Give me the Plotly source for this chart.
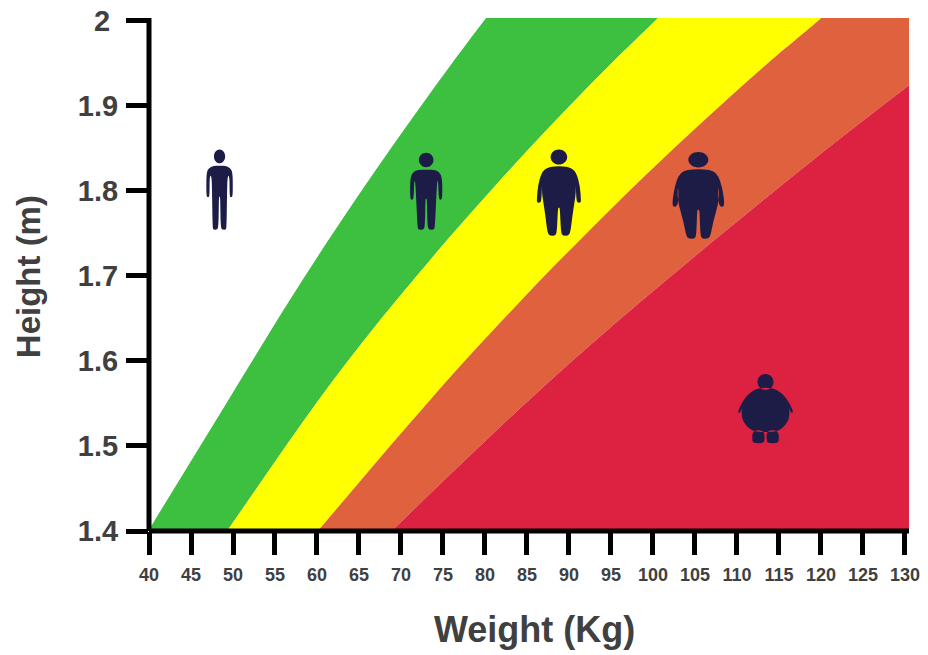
import plotly.graph_objects as go

heights = [1.40, 1.45, 1.50, 1.55, 1.60, 1.65, 1.70, 1.75, 1.80, 1.85, 1.90, 1.95, 2.00, 2.01]
under_limit = [39.9, 43.0, 46.1, 49.2, 52.3, 55.4, 58.6, 61.9, 65.3, 68.8, 72.4, 76.1, 79.9, 80.7]
normal_limit = [49.3, 52.8, 56.3, 59.9, 63.7, 67.7, 71.9, 76.2, 80.7, 85.3, 90.1, 95.1, 100.3, 101.3]
over_limit = [60.1, 64.4, 68.7, 73.1, 77.6, 82.3, 87.1, 92.1, 97.2, 102.5, 108.0, 113.7, 119.7, 120.8]
obese_limit = [68.9, 74.1, 79.4, 84.8, 90.4, 96.2, 102.2, 108.3, 114.5, 120.8, 127.3, 134.0, 141.0, 142.4]
right_limit = [145.0] * 14

figure_w = [48.4, 73.0, 88.8, 105.4, 113.4]
figure_h = [1.80, 1.80, 1.80, 1.80, 1.542]

x_ticks = list(range(40, 131, 5))
y_ticks = [1.4, 1.5, 1.6, 1.7, 1.8, 1.9, 2]
y_labels = ["1.4", "1.5", "1.6", "1.7", "1.8", "1.9", "2\u00a0"]

GREEN, YELLOW, ORANGE, RED = "#3dbf40", "#ffff00", "#e0613e", "#dd2140"
NAVY = "#1c1c46"
TEXT = "#404040"

# icon outlines: pixel offsets from the anchor (y downward), right half
heads = [(0, -34.3, 5.6, 6.8), (0, -30.7, 7.3, 7.2), (0, -33.7, 8.3, 7.6), (0, -31, 10, 7.7), (0, -28.3, 8, 8)]
bodies = [
    [[(0, -25), (6, -25), (11, -22.5), (13, -18), (13.3, -4), (13, 6), (11.5, 6.5), (10, 6), (10, -15), (8, -15),
      (7.5, 0), (7, 37), (6, 39), (3, 39), (1, 37), (0.7, 6), (0, 6)]],
    [[(0, -21), (8, -21), (13, -19), (16, -13), (16.2, 7), (14.5, 9.5), (12.5, 8), (12, -10), (11, -10), (10, 8),
      (8.7, 37), (7.5, 39), (3, 39), (1.2, 36), (0.8, 8), (0, 8)]],
    [[(0, -24.5), (9, -24), (15, -21), (18, -16), (21, -5), (22, 8), (22, 12), (19, 12), (17.5, 10), (16.8, -8),
      (17, 2), (15.5, 12), (13.5, 25), (11.5, 42), (9, 45), (4, 45), (2, 42), (1, 17), (0, 17)]],
    [[(0, -21.5), (11, -21), (18, -18), (22, -10), (25, 3), (26, 13), (25, 16), (22, 16), (20, 12), (20, -5),
      (21, 3), (19.5, 15), (15, 30), (12, 46), (9, 48), (4, 48), (2, 45), (1.2, 19), (0, 19)]],
    [[(0, -22.5), (8, -22), (15, -18), (20, -13), (25, -5), (27.5, 1), (27, 3), (25, 2), (23.5, -3), (24, 2),
      (23, 11), (14, 21), (0, 22)],
     [(1, 20), (13, 20), (13.5, 31), (11, 33), (3, 33), (1, 31), (1, 20)]],
]


def smooth_closed(points):
    mids = [((points[i][0] + points[(i + 1) % len(points)][0]) / 2,
             (points[i][1] + points[(i + 1) % len(points)][1]) / 2) for i in range(len(points))]
    d = f"M {mids[-1][0]:.2f} {-mids[-1][1]:.2f} "
    for i, p in enumerate(points):
        d += f"Q {p[0]:.2f} {-p[1]:.2f} {mids[i][0]:.2f} {-mids[i][1]:.2f} "
    return d + "Z "


def ellipse(cx, cy, rx, ry):
    k = 0.5523
    y = -cy
    return (f"M {cx - rx} {y} C {cx - rx} {y + k * ry} {cx - k * rx} {y + ry} {cx} {y + ry} "
            f"C {cx + k * rx} {y + ry} {cx + rx} {y + k * ry} {cx + rx} {y} "
            f"C {cx + rx} {y - k * ry} {cx + k * rx} {y - ry} {cx} {y - ry} "
            f"C {cx - k * rx} {y - ry} {cx - rx} {y - k * ry} {cx - rx} {y} Z ")


def icon_path(head, parts):
    d = ellipse(*head)
    for part in parts:
        if part[0][0] == 0:
            full = part + [(-x, y) for x, y in reversed(part[1:-1])]
            d += smooth_closed(full)
        else:
            d += smooth_closed(part[:-1])
            d += smooth_closed([(-x, y) for x, y in part[:-1]])
    return d


fig = go.Figure()
spline = dict(width=0, shape="spline", smoothing=1)
fig.add_trace(go.Scatter(x=under_limit, y=heights, mode="lines", line=spline, showlegend=False))
for xs, color in [(normal_limit, GREEN), (over_limit, YELLOW), (obese_limit, ORANGE), (right_limit, RED)]:
    fig.add_trace(go.Scatter(x=xs, y=heights, mode="lines", line=dict(color=color, **spline),
                             fill="tonextx", fillcolor=color, showlegend=False))

shapes = []
for w, h, head, parts in zip(figure_w, figure_h, heads, bodies):
    shapes.append(dict(type="path", path=icon_path(head, parts), xref="x", yref="y", xsizemode="pixel",
                       ysizemode="pixel", xanchor=w, yanchor=h, fillcolor=NAVY, line=dict(width=0)))
# axis spines, centred on the plot edges so that ticks line up with them
shapes.append(dict(type="line", xref="paper", yref="paper", x0=0, x1=0, y0=0, y1=1,
                   line=dict(color="black", width=5), layer="above"))
shapes.append(dict(type="line", xref="paper", yref="paper", x0=0, x1=1, y0=0, y1=0,
                   line=dict(color="black", width=5), layer="above"))

title_font = dict(family="Liberation Sans", color=TEXT, weight="bold")
annotations = [
    dict(text="Weight (Kg)", xref="paper", yref="paper", x=0.5, y=0, xshift=5.2, yshift=-98.5,
         xanchor="center", yanchor="middle", showarrow=False, font=dict(size=36, **title_font)),
    dict(text="Height (m)", xref="paper", yref="paper", x=0, y=0.5, xshift=-120.8, yshift=-2.5,
         xanchor="center", yanchor="middle", textangle=-90, showarrow=False, font=dict(size=33, **title_font)),
]

fig.update_layout(
    width=928, height=655, autosize=False, template=None,
    paper_bgcolor="white", plot_bgcolor="white", showlegend=False,
    margin=dict(l=149.3, r=18.7, t=18, b=124, pad=0),
    font=dict(family="Liberation Sans", color=TEXT),
    shapes=shapes, annotations=annotations,
    xaxis=dict(range=[40, 130.48], tickmode="array", tickvals=x_ticks, ticktext=[str(v) for v in x_ticks],
               showgrid=False, zeroline=False, showline=False,
               ticks="outside", ticklen=23, tickwidth=5, tickcolor="black",
               tickfont=dict(size=18, family="Liberation Sans", color=TEXT, weight="bold"), tickangle=0,
               ticklabelstandoff=4),
    yaxis=dict(range=[1.4, 2.003], tickmode="array", tickvals=y_ticks, ticktext=y_labels,
               showgrid=False, zeroline=False, showline=False,
               ticks="outside", ticklen=22, tickwidth=5, tickcolor="black", ticklabelstandoff=2,
               tickfont=dict(size=29, family="Liberation Sans", color=TEXT, weight="bold")),
)
fig.write_html("out.html", config={"displayModeBar": False},
               post_script="document.body.style.margin='0';document.body.style.overflow='hidden';")
